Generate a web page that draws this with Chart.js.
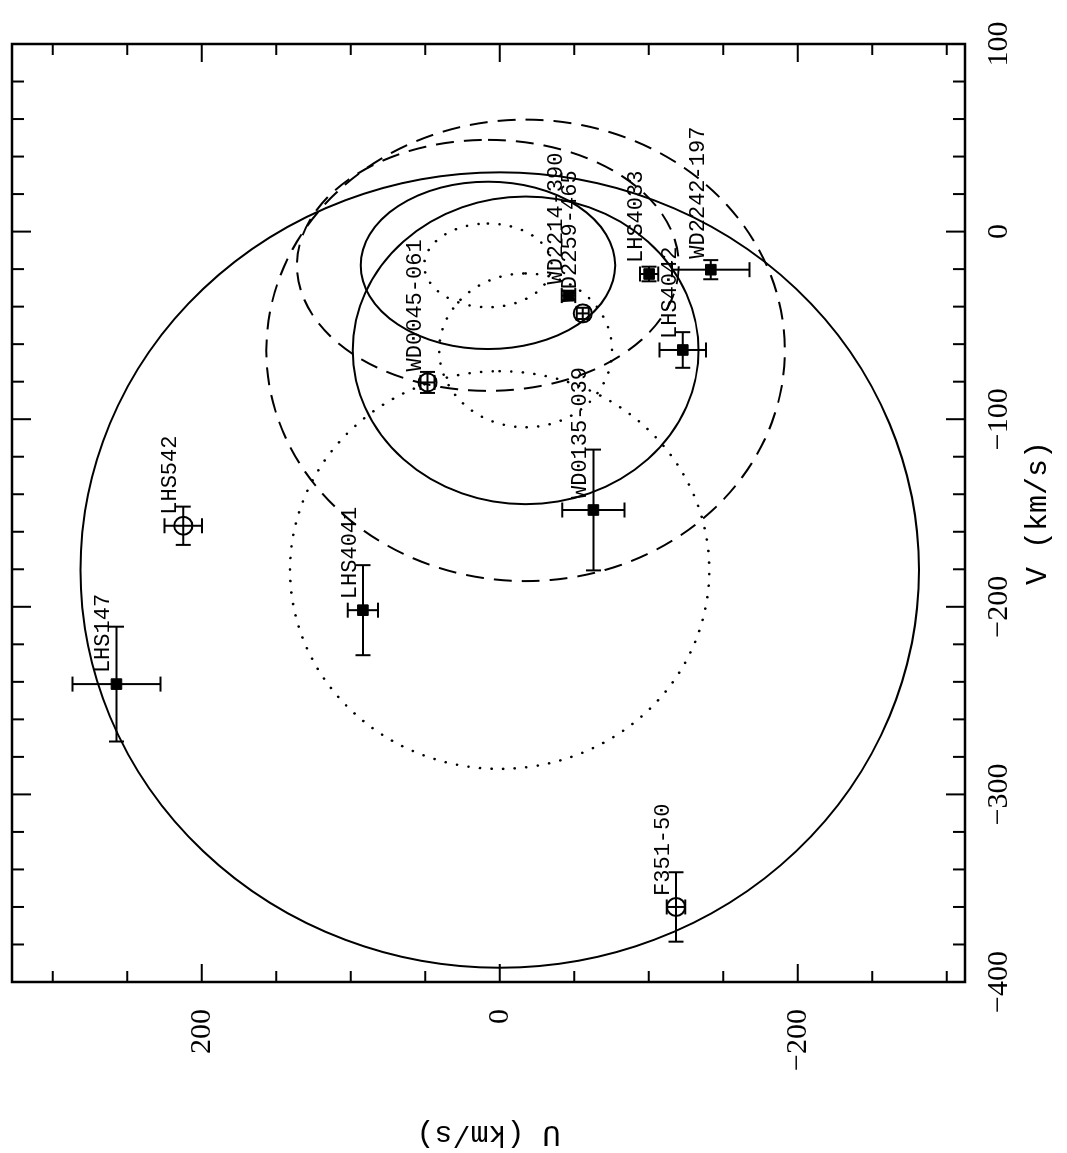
<!DOCTYPE html>
<html lang="en">
<head>
  <meta charset="UTF-8" />
  <title>U-V velocity diagram</title>
  <script src="https://cdn.jsdelivr.net/npm/chart.js"></script>
  <style>
    html, body { margin: 0; padding: 0; background: white; overflow: hidden; }
    /* plot is drawn in landscape and turned a quarter turn, like the printed page */
    #wrap {
      position: absolute; left: 0; top: 0;
      width: 1153px; height: 1067px;
      transform-origin: 0 0;
      transform: translateY(1153px) rotate(-90deg);
    }
  </style>
</head>
<body>
  <div id="wrap"><canvas id="uv" width="1153" height="1067"></canvas></div>

  <script>
    // stars (km/s)
    const starNames = ['LHS147', 'LHS542', 'LHS4041', 'F351-50', 'WD0135-039', 'WD0045-061',
                       'WD2214-390', 'WD2259-465', 'LHS4033', 'LHS4042', 'WD2242-197'];
    const starU    = [257.2, 212.3, 91.8, -118.4, -62.9, 48.4, -46.2, -55.8, -100.3, -122.9, -141.7];
    const starV    = [-241.2, -156.8, -201.8, -360.0, -148.4, -80.4, -34.1, -43.6, -22.6, -63.1, -20.3];
    const starErrU = [29.5, 12.6, 10.1, 6.2, 20.9, 4.7, 4.5, 4.0, 6.1, 15.6, 26.0];
    const starErrV = [30.6, 10.2, 24.0, 18.5, 32.2, 5.6, 2.5, 3.0, 3.9, 9.5, 5.1];
    const starOpen = [false, true, false, true, false, true, false, true, false, false, false];

    // velocity ellipsoids: thin disk, thick disk, halo
    const popNames  = ['thin disk', 'thick disk', 'halo'];
    const popU      = [7.9, -17.4, 0];
    const popV      = [-18.0, -63.3, -180.4];
    const popSigU   = [42.7, 58.0, 140.7];
    const popSigV   = [22.3, 41.0, 106.0];
    const popLevels = [3, 3, 2];

    // axes
    const vRange = [-400, 100];
    const uRange = [-312.3, 327.3];
    const vTickLabels = [-400, -300, -200, -100, 0, 100];
    const uTickLabels = [-200, 0, 200];
    const vMinorStep = 20;
    const uMinorStep = 50;

    const fmt = v => (v < 0 ? '\u2212' + Math.abs(v) : String(v));

    function stepTicks(lo, hi, step) {
      const out = [];
      for (let v = Math.ceil(lo / step) * step; v <= hi; v += step) out.push({ value: v });
      return out;
    }

    const filled = [], open = [];
    starNames.forEach((n, i) => {
      (starOpen[i] ? open : filled).push({ x: starV[i], y: starU[i] });
    });

    const ellipsePlugin = {
      id: 'ellipses',
      beforeDatasetsDraw(chart) {
        const { ctx, chartArea: a, scales: { x, y } } = chart;
        ctx.save();
        ctx.beginPath();
        ctx.rect(a.left, a.top, a.right - a.left, a.bottom - a.top);
        ctx.clip();
        ctx.strokeStyle = '#000';
        popNames.forEach((p, i) => {
          const cx = x.getPixelForValue(popV[i]);
          const cy = y.getPixelForValue(popU[i]);
          for (let n = 1; n <= popLevels[i]; n++) {
            const rx = Math.abs(x.getPixelForValue(popV[i] + n * popSigV[i]) - cx);
            const ry = Math.abs(y.getPixelForValue(popU[i] + n * popSigU[i]) - cy);
            if (n === 1) { ctx.setLineDash([0.1, 11.5]); ctx.lineCap = 'round'; ctx.lineWidth = 2.6; }
            else if (n === 2) { ctx.setLineDash([]); ctx.lineCap = 'butt'; ctx.lineWidth = 2; }
            else { ctx.setLineDash([18, 10]); ctx.lineCap = 'butt'; ctx.lineWidth = 2; }
            ctx.beginPath();
            ctx.ellipse(cx, cy, rx, ry, 0, 0, Math.PI * 2);
            ctx.stroke();
          }
        });
        ctx.restore();
      }
    };

    const errorBarPlugin = {
      id: 'errorbars',
      beforeDatasetsDraw(chart) {
        const { ctx, scales: { x, y } } = chart;
        const cap = 7.5;
        ctx.save();
        ctx.strokeStyle = '#000';
        ctx.lineWidth = 2;
        ctx.setLineDash([]);
        starNames.forEach((n, i) => {
          const px = x.getPixelForValue(starV[i]);
          const py = y.getPixelForValue(starU[i]);
          const x0 = x.getPixelForValue(starV[i] - starErrV[i]);
          const x1 = x.getPixelForValue(starV[i] + starErrV[i]);
          const y0 = y.getPixelForValue(starU[i] - starErrU[i]);
          const y1 = y.getPixelForValue(starU[i] + starErrU[i]);
          ctx.beginPath();
          ctx.moveTo(x0, py); ctx.lineTo(x1, py);
          ctx.moveTo(x0, py - cap); ctx.lineTo(x0, py + cap);
          ctx.moveTo(x1, py - cap); ctx.lineTo(x1, py + cap);
          ctx.moveTo(px, y0); ctx.lineTo(px, y1);
          ctx.moveTo(px - cap, y0); ctx.lineTo(px + cap, y0);
          ctx.moveTo(px - cap, y1); ctx.lineTo(px + cap, y1);
          ctx.stroke();
        });
        ctx.restore();
      }
    };

    const framePlugin = {
      id: 'frame',
      afterDraw(chart) {
        const { ctx, chartArea: a, scales: { x, y } } = chart;
        ctx.save();
        ctx.strokeStyle = '#000';
        ctx.setLineDash([]);

        // star names
        ctx.fillStyle = '#000';
        ctx.font = '22px "Liberation Mono", "Courier New", monospace';
        ctx.textAlign = 'left';
        ctx.textBaseline = 'alphabetic';
        starNames.forEach((n, i) => {
          ctx.fillText(n, x.getPixelForValue(starV[i]) + 11, y.getPixelForValue(starU[i]) - 7);
        });

        // inward ticks on all four sides
        ctx.lineWidth = 2;
        ctx.beginPath();
        x.ticks.forEach(t => {
          const px = x.getPixelForValue(t.value);
          const len = vTickLabels.includes(t.value) ? 19 : 12;
          ctx.moveTo(px, a.bottom); ctx.lineTo(px, a.bottom - len);
          ctx.moveTo(px, a.top); ctx.lineTo(px, a.top + len);
        });
        y.ticks.forEach(t => {
          const py = y.getPixelForValue(t.value);
          const len = uTickLabels.includes(t.value) ? 18 : 11;
          ctx.moveTo(a.left, py); ctx.lineTo(a.left + len, py);
          ctx.moveTo(a.right, py); ctx.lineTo(a.right - len, py);
        });
        ctx.stroke();

        ctx.lineWidth = 2.5;
        ctx.strokeRect(a.left, a.top, a.right - a.left, a.bottom - a.top);
        ctx.restore();
      }
    };

    const tickFont = { family: '"Liberation Serif", "Times New Roman", serif', size: 30 };
    const titleFont = { family: '"Liberation Mono", "Courier New", monospace', size: 30 };

    new Chart(document.getElementById('uv').getContext('2d'), {
      type: 'scatter',
      data: {
        datasets: [
          {
            label: 'filled',
            data: filled,
            pointStyle: 'rect',
            radius: 7.5,
            backgroundColor: '#000',
            borderColor: '#000',
            borderWidth: 1
          },
          {
            label: 'open',
            data: open,
            pointStyle: 'circle',
            radius: 9,
            backgroundColor: 'rgba(0,0,0,0)',
            borderColor: '#000',
            borderWidth: 2
          }
        ]
      },
      options: {
        responsive: false,
        animation: false,
        devicePixelRatio: 1,
        layout: { padding: { top: 12, right: 44, left: 0, bottom: 0 } },
        plugins: {
          legend: { display: false },
          tooltip: { enabled: false }
        },
        scales: {
          x: {
            type: 'linear',
            position: 'bottom',
            min: vRange[0],
            max: vRange[1],
            afterBuildTicks: s => { s.ticks = stepTicks(vRange[0], vRange[1], vMinorStep); },
            afterFit: s => { s.height = 102; s.paddingLeft = 0; s.paddingRight = 0; },
            grid: { display: false },
            border: { display: false },
            ticks: {
              autoSkip: false, maxRotation: 0, minRotation: 0,
              padding: 8, color: '#000', font: tickFont,
              callback: v => (vTickLabels.includes(v) ? fmt(v) : '')
            },
            title: {
              display: true, text: 'V (km/s)', color: '#000', font: titleFont,
              padding: { top: 0, bottom: 11 }
            }
          },
          y: {
            type: 'linear',
            position: 'left',
            min: uRange[0],
            max: uRange[1],
            afterBuildTicks: s => { s.ticks = stepTicks(uRange[0], uRange[1], uMinorStep); },
            afterFit: s => { s.width = 171; s.paddingTop = 0; s.paddingBottom = 0; },
            grid: { display: false },
            border: { display: false },
            ticks: {
              autoSkip: false, padding: 19, color: '#000', font: tickFont,
              callback: v => (uTickLabels.includes(v) ? fmt(v) : '')
            },
            title: {
              display: true, text: 'U (km/s)', color: '#000', font: titleFont,
              padding: { top: 1, bottom: 0 }
            }
          }
        }
      },
      plugins: [ellipsePlugin, errorBarPlugin, framePlugin]
    });
  </script>
</body>
</html>
